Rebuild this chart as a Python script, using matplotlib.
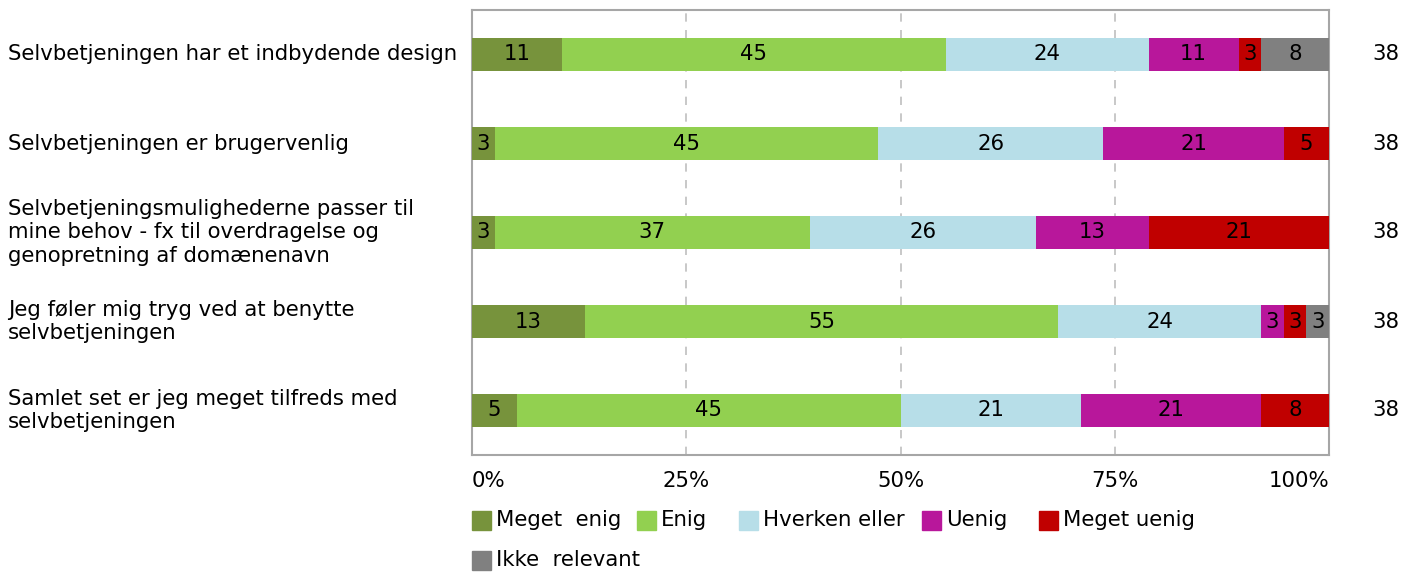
import numpy as np
import matplotlib.pyplot as plt
from matplotlib.patches import Rectangle

plt.rcParams['font.family'] = ['DejaVu Sans']

# -------- data (antal svar, n = 38 pr. spørgsmål) --------
questions = [
    'Selvbetjeningen har et indbydende design',
    'Selvbetjeningen er brugervenlig',
    'Selvbetjeningsmulighederne passer til\nmine behov - fx til overdragelse og\ngenopretning af domænenavn',
    'Jeg føler mig tryg ved at benytte\nselvbetjeningen',
    'Samlet set er jeg meget tilfreds med\nselvbetjeningen',
]
categories = ['Meget  enig', 'Enig', 'Hverken eller', 'Uenig', 'Meget uenig', 'Ikke  relevant']
colors = ['#77933C', '#92D050', '#B7DEE8', '#B8179B', '#C00000', '#808080']

meget_enig = [4, 1, 1, 5, 2]
enig = [17, 17, 14, 21, 17]
hverken = [9, 10, 10, 9, 8]
uenig = [4, 8, 5, 1, 8]
meget_uenig = [1, 2, 8, 1, 3]
ikke_relevant = [3, 0, 0, 1, 0]
n_total = [38, 38, 38, 38, 38]

series = [meget_enig, enig, hverken, uenig, meget_uenig, ikke_relevant]

W, H = 1418, 572
fig = plt.figure(figsize=(W / 100, H / 100), dpi=100)
ax = fig.add_axes([472 / W, 1 - 455 / H, (1329 - 472) / W, 445 / H])

fs = 15.3
y = np.arange(len(questions))
left = np.zeros(len(questions))
for vals, col in zip(series, colors):
    pct = np.array(vals) / np.array(n_total) * 100
    ax.barh(y, pct, left=left, height=0.37, color=col, linewidth=0, zorder=3)
    for i, p in enumerate(pct):
        if p > 0:
            ax.text(left[i] + p / 2, y[i], f'{round(p)}', ha='center', va='center',
                    fontsize=fs, color='black', zorder=4)
    left += pct

ax.set_xlim(0, 100)
ax.set_ylim(len(questions) - 0.5, -0.5)
ax.set_yticks([])
ax.set_xticks([])
for xv in [25, 50, 75]:
    ax.axvline(xv, color='#BFBFBF', linestyle=(0, (5, 5)), linewidth=1.2, zorder=1)
for s in ax.spines.values():
    s.set_color('#A6A6A6')
    s.set_linewidth(1.5)

# x-akse etiketter
for xv in [0, 25, 50, 75, 100]:
    ha = 'left' if xv == 0 else ('right' if xv == 100 else 'center')
    ax.text(xv, -0.058, f'{xv}%', transform=ax.get_xaxis_transform(), ha=ha, va='center',
            fontsize=fs)

# spørgsmål og n
for i, q in enumerate(questions):
    yc = 1 - (54.5 + 89 * i) / H
    fig.text(8 / W, yc, q, ha='left', va='center', fontsize=fs, linespacing=1.2)
    fig.text(1386 / W, yc, str(n_total[i]), ha='center', va='center', fontsize=fs)

# legend
leg_pos = [(472, 520), (637, 520), (739, 520), (922, 520), (1039, 520), (472, 560)]
for (lx, ly), lab, col in zip(leg_pos, categories, colors):
    fig.patches.append(Rectangle((lx / W, 1 - (ly + 9.5) / H), 19 / W, 19 / H,
                                 transform=fig.transFigure, color=col, figure=fig))
    fig.text((lx + 24) / W, 1 - ly / H, lab, ha='left', va='center', fontsize=fs)

fig.savefig('out.png', dpi=100)
